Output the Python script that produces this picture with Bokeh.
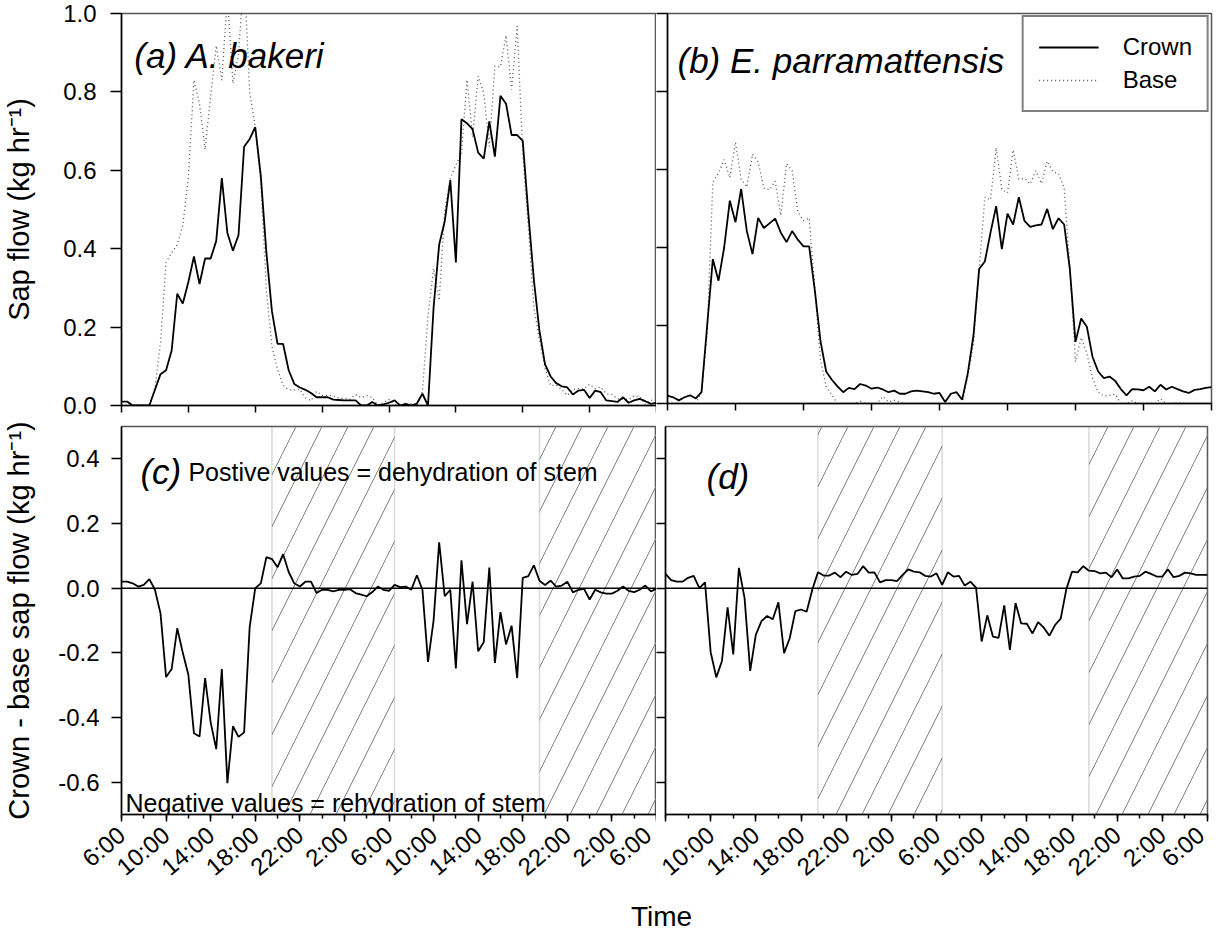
from bokeh.plotting import figure
from bokeh.models import (Range1d, FixedTicker, NumeralTickFormatter, BoxAnnotation,
                          Span, Label, Legend, LegendItem, CustomJSTickFormatter)
from bokeh.layouts import column, row
from bokeh.embed import file_html
from bokeh.resources import INLINE

# ---------------- data (30-min readings, hours since 6:00) ----------------
hours = [i * 0.5 for i in range(97)]

crown_a = [0.01, 0.01, 0.0, 0.0, 0.0, 0.0, 0.04, 0.08,
           0.09, 0.14, 0.285, 0.26, 0.315, 0.38, 0.31, 0.375,
           0.375, 0.42, 0.58, 0.44, 0.395, 0.435, 0.66, 0.68,
           0.71, 0.585, 0.39, 0.24, 0.157, 0.157, 0.09, 0.055,
           0.046, 0.04, 0.032, 0.021, 0.021, 0.021, 0.015, 0.014,
           0.013, 0.013, 0.013, 0.0, 0.0, 0.009, 0.0, 0.003,
           0.007, 0.013, 0.0, 0.004, 0.0, 0.005, 0.03, 0.0,
           0.25, 0.41, 0.47, 0.575, 0.365, 0.73, 0.72, 0.705,
           0.645, 0.63, 0.725, 0.635, 0.79, 0.77, 0.69, 0.69,
           0.675, 0.49, 0.32, 0.19, 0.105, 0.074, 0.057, 0.049,
           0.046, 0.028, 0.038, 0.04, 0.019, 0.038, 0.034, 0.013,
           0.011, 0.009, 0.021, 0.007, 0.013, 0.017, 0.011, 0.004,
           0.007]

base_a = [0.0, 0.0, 0.0, 0.0, 0.0, 0.0, 0.045, 0.16,
          0.365, 0.39, 0.41, 0.46, 0.583, 0.83, 0.77, 0.653,
          0.79, 0.918, 0.83, 1.043, 0.822, 0.895, 1.106, 0.80,
          0.71, 0.57, 0.294, 0.15, 0.092, 0.052, 0.04, 0.04,
          0.041, 0.02, 0.012, 0.036, 0.026, 0.026, 0.025, 0.019,
          0.018, 0.016, 0.028, 0.02, 0.025, 0.021, 0.0, 0.008,
          0.015, 0.003, 0.0, 0.0, 0.005, 0.0, 0.035, 0.228,
          0.35, 0.268, 0.495, 0.58, 0.613, 0.644, 0.831, 0.685,
          0.84, 0.797, 0.661, 0.866, 0.864, 0.944, 0.806, 0.968,
          0.643, 0.453, 0.249, 0.167, 0.095, 0.051, 0.052, 0.041,
          0.026, 0.041, 0.043, 0.042, 0.054, 0.043, 0.047, 0.03,
          0.028, 0.017, 0.016, 0.015, 0.025, 0.022, 0.003, 0.014,
          0.009]

diff_c = [0.02, 0.02, 0.015, 0.005, 0.01, 0.028, -0.005, -0.078,
          -0.275, -0.25, -0.124, -0.2, -0.268, -0.449, -0.459, -0.278,
          -0.415, -0.498, -0.25, -0.603, -0.427, -0.46, -0.446, -0.12,
          0.0, 0.015, 0.096, 0.09, 0.065, 0.105, 0.05, 0.015,
          0.005, 0.02, 0.02, -0.015, -0.005, -0.005, -0.01, -0.005,
          -0.005, -0.003, -0.015, -0.02, -0.025, -0.012, 0.005, -0.005,
          -0.008, 0.01, 0.003, 0.005, -0.005, 0.04, -0.005, -0.228,
          -0.10, 0.142, -0.025, -0.005, -0.248, 0.086, -0.111, 0.02,
          -0.195, -0.167, 0.064, -0.231, -0.074, -0.174, -0.116, -0.278,
          0.032, 0.037, 0.071, 0.023, 0.01, 0.023, 0.005, 0.008,
          0.02, -0.013, -0.005, -0.002, -0.035, -0.005, -0.013, -0.017,
          -0.017, -0.008, 0.005, -0.008, -0.012, -0.005, 0.008, -0.01,
          -0.002]

crown_b = [0.02, 0.016, 0.008, 0.016, 0.021, 0.013, 0.029, 0.2,
           0.37, 0.315, 0.40, 0.52, 0.465, 0.55, 0.442, 0.383,
           0.476, 0.45, 0.462, 0.474, 0.438, 0.414, 0.442, 0.42,
           0.403, 0.403, 0.29, 0.16, 0.082, 0.061, 0.044, 0.029,
           0.04, 0.037, 0.05, 0.046, 0.038, 0.041, 0.036, 0.029,
           0.033, 0.025, 0.025, 0.031, 0.033, 0.031, 0.029, 0.025,
           0.027, 0.004, 0.025, 0.029, 0.01, 0.078, 0.175, 0.345,
           0.364, 0.438, 0.506, 0.396, 0.487, 0.459, 0.529, 0.468,
           0.453, 0.457, 0.459, 0.499, 0.447, 0.475, 0.459, 0.345,
           0.158, 0.218, 0.197, 0.12, 0.082, 0.065, 0.069, 0.058,
           0.037, 0.021, 0.037, 0.036, 0.034, 0.043, 0.031, 0.048,
           0.036, 0.043, 0.037, 0.031, 0.027, 0.035, 0.037, 0.04,
           0.042]

base_b = [0.0, 0.0, 0.0, 0.0, 0.0, 0.0, 0.029, 0.18,
          0.568, 0.591, 0.625, 0.579, 0.67, 0.575, 0.555, 0.639,
          0.62, 0.552, 0.548, 0.57, 0.482, 0.615, 0.597, 0.491,
          0.469, 0.476, 0.295, 0.111, 0.043, 0.022, 0.0, 0.0,
          0.0, 0.0, 0.006, 0.0, 0.0, 0.0, 0.018, 0.004,
          0.008, 0.003, 0.0, 0.0, 0.0, 0.0, 0.0, 0.0,
          0.0, 0.0, 0.0, 0.0, 0.0, 0.07, 0.155, 0.343,
          0.529, 0.522, 0.656, 0.55, 0.54, 0.65, 0.575, 0.577,
          0.563, 0.597, 0.564, 0.621, 0.594, 0.589, 0.553, 0.348,
          0.107, 0.169, 0.129, 0.066, 0.029, 0.019, 0.021, 0.024,
          0.0, 0.0, 0.007, 0.0, 0.0, 0.0, 0.0, 0.012,
          0.0, 0.0, 0.003, 0.0, 0.0, 0.0, 0.0, 0.0,
          0.001]

diff_d = [0.044, 0.025, 0.02, 0.02, 0.032, 0.038, 0.0, 0.018,
          -0.198, -0.276, -0.225, -0.059, -0.205, 0.063, -0.03, -0.256,
          -0.144, -0.102, -0.086, -0.096, -0.044, -0.201, -0.155, -0.071,
          -0.066, -0.073, -0.005, 0.049, 0.039, 0.039, 0.048, 0.034,
          0.051, 0.041, 0.044, 0.068, 0.048, 0.049, 0.018, 0.025,
          0.025, 0.022, 0.041, 0.058, 0.051, 0.049, 0.038, 0.036,
          0.046, 0.01, 0.049, 0.036, 0.038, 0.008, 0.02, 0.002,
          -0.165, -0.084, -0.15, -0.154, -0.053, -0.191, -0.046, -0.109,
          -0.11, -0.14, -0.105, -0.122, -0.147, -0.114, -0.094, -0.003,
          0.051, 0.049, 0.068, 0.054, 0.053, 0.046, 0.048, 0.034,
          0.058, 0.03, 0.03, 0.036, 0.038, 0.051, 0.044, 0.036,
          0.036, 0.058, 0.034, 0.038, 0.048, 0.046, 0.041, 0.041,
          0.041]

night_start = [13.5, 37.5]
night_end = [24.5, 48.0]

top_xticks = [0, 6, 12, 18, 24, 30, 36, 42, 48]
bottom_xticks = [0, 4, 8, 12, 16, 20, 24, 28, 32, 36, 40, 44, 48]
bottom_minor = [0, 2, 4, 6, 8, 10, 12, 14, 16, 18, 20, 22, 24, 26, 28, 30, 32,
                34, 36, 38, 40, 42, 44, 46, 48]
tick_labels = ["6:00", "10:00", "14:00", "18:00", "22:00", "2:00", "6:00",
               "10:00", "14:00", "18:00", "22:00", "2:00", "6:00"]
top_yticks = [0.0, 0.2, 0.4, 0.6, 0.8, 1.0]
bottom_yticks = [-0.6, -0.4, -0.2, 0.0, 0.2, 0.4]

FONT = "Liberation Sans"


def base_fig(fw, fh, yr, ml, mr, mt, mb):
    p = figure(frame_width=fw, frame_height=fh, x_range=Range1d(0, 48),
               y_range=Range1d(*yr), output_backend="svg", toolbar_location=None,
               min_border_left=ml, min_border_right=mr, min_border_top=mt,
               min_border_bottom=mb)
    p.xgrid.visible = False
    p.ygrid.visible = False
    p.outline_line_color = "#555555"
    p.outline_line_width = 1.5
    p.background_fill_color = "white"
    p.border_fill_color = "white"
    for ax in (p.xaxis[0], p.yaxis[0]):
        ax.axis_line_color = "black"
        ax.axis_line_width = 1.5
        ax.major_tick_line_color = "black"
        ax.major_tick_line_width = 1.5
        ax.minor_tick_line_color = None
        ax.major_tick_in = 0
        ax.minor_tick_in = 0
        ax.major_label_text_font = FONT
        ax.major_label_text_font_size = "24px"
        ax.major_label_text_color = "black"
        ax.axis_label_text_font = FONT
        ax.axis_label_text_font_style = "normal"
        ax.axis_label_text_font_size = "29px"
        ax.axis_label_text_color = "black"
    return p


def hide_labels(ax):
    ax.formatter = CustomJSTickFormatter(code="return '';")
    ax.major_label_standoff = 0


def add_night(p):
    for s, e in zip(night_start, night_end):
        p.add_layout(BoxAnnotation(left=s, right=e, fill_color=None, fill_alpha=0,
                                   line_color="#808080", line_width=1.5,
                                   hatch_pattern="/", hatch_color="#808080",
                                   hatch_scale=52, hatch_weight=1, level="underlay"))


def label(p, x, y, text, size, italic=False):
    p.add_layout(Label(x=x, y=y, text=text, text_font=FONT, text_color="black",
                       text_font_style="italic" if italic else "normal",
                       text_font_size=size, text_baseline="alphabetic"))


# ---------------- (a) ----------------
pa = base_fig(535, 392, (0, 1.0), 117, 0, 10, 16)
pa.xaxis.ticker = FixedTicker(ticks=top_xticks)
pa.xaxis.major_tick_out = 7
hide_labels(pa.xaxis[0])
pa.yaxis.ticker = FixedTicker(ticks=top_yticks)
pa.yaxis.formatter = NumeralTickFormatter(format="0.0")
pa.yaxis.major_tick_out = 11
pa.yaxis.major_label_standoff = 14
pa.yaxis.axis_label = "Sap flow (kg hr\u207b\u00b9)"
pa.yaxis.axis_label_standoff = 25
pa.line(hours, base_a, line_color="#555555", line_width=1.3, line_dash="1 3")
pa.line(hours, crown_a, line_color="black", line_width=1.8)
label(pa, 1.15, 0.893, "(a) A. bakeri", "35px", italic=True)

# ---------------- (b) ----------------
pb = base_fig(544, 390, (0, 1.0), 11, 2, 13, 15)
pb.xaxis.ticker = FixedTicker(ticks=top_xticks)
pb.xaxis.major_tick_out = 7
hide_labels(pb.xaxis[0])
pb.yaxis.ticker = FixedTicker(ticks=top_yticks)
pb.yaxis.major_tick_out = 11
hide_labels(pb.yaxis[0])
r_base = pb.line(hours, base_b, line_color="#555555", line_width=1.3, line_dash="1 3")
r_crown = pb.line(hours, crown_b, line_color="black", line_width=1.8)
label(pb, 0.88, 0.88, "(b) E. parramattensis", "35px", italic=True)
legend = Legend(items=[LegendItem(label="Crown", renderers=[r_crown]),
                       LegendItem(label="Base", renderers=[r_base])],
                location="top_right", margin=2, padding=15, spacing=3,
                glyph_width=60, glyph_height=30, label_height=30, label_standoff=24,
                label_text_font=FONT, label_text_font_size="24px",
                label_text_color="black",
                border_line_color="black", border_line_width=2,
                background_fill_color="white", background_fill_alpha=1.0)
pb.add_layout(legend)


def bottom_xaxis(p, labels):
    p.xaxis.ticker = FixedTicker(ticks=bottom_xticks, minor_ticks=bottom_minor)
    p.xaxis.major_label_overrides = {t: l for t, l in zip(bottom_xticks, labels)}
    p.xaxis.major_label_orientation = 0.7
    p.xaxis.major_tick_out = 7
    p.xaxis.minor_tick_out = 4
    p.xaxis.minor_tick_line_color = "black"
    p.xaxis.minor_tick_line_width = 1.5
    p.xaxis.major_label_standoff = 10


# ---------------- (c) ----------------
pc = base_fig(535, 388, (-0.7, 0.5), 121, 0, 7, 83)
add_night(pc)
pc.add_layout(Span(location=0, dimension="width", line_color="black", line_width=1.5))
bottom_xaxis(pc, tick_labels)
pc.yaxis.ticker = FixedTicker(ticks=bottom_yticks)
pc.yaxis.formatter = NumeralTickFormatter(format="0.0")
pc.yaxis.major_tick_out = 10
pc.yaxis.major_label_standoff = 12
pc.yaxis.axis_label = "Crown - base sap flow (kg hr\u207b\u00b9)"
pc.yaxis.axis_label_standoff = 20
pc.line(hours, diff_c, line_color="black", line_width=1.8)
label(pc, 1.7, 0.36, "(c)", "35px", italic=True)
label(pc, 6.0, 0.36, "Postive values = dehydration of stem", "25px")
label(pc, 0.36, -0.664, "Negative values = rehydration of stem", "25px")

# ---------------- (d) ----------------
pd_ = base_fig(542, 388, (-0.7, 0.5), 9, 2, 8, 82)
add_night(pd_)
pd_.add_layout(Span(location=0, dimension="width", line_color="black", line_width=1.5))
bottom_xaxis(pd_, [""] + tick_labels[1:])
pd_.yaxis.ticker = FixedTicker(ticks=bottom_yticks)
pd_.yaxis.major_tick_out = 9
hide_labels(pd_.yaxis[0])
pd_.line(hours, diff_d, line_color="black", line_width=1.8)
label(pd_, 3.63, 0.344, "(d)", "35px", italic=True)

# ---------------- shared x title ----------------
pt = figure(width=1200, height=40, x_range=Range1d(0, 1200), y_range=Range1d(0, 40),
            output_backend="svg", toolbar_location=None, x_axis_type=None,
            y_axis_type=None, min_border=0)
pt.outline_line_color = None
pt.xgrid.visible = False
pt.ygrid.visible = False
pt.add_layout(Label(x=661, y=20, text="Time", text_font=FONT, text_font_size="28px",
                    text_color="black", text_align="center", text_baseline="middle"))

layout = column(row(pa, pb), row(pc, pd_), pt)
open("out.html", "w").write(file_html(layout, INLINE))
